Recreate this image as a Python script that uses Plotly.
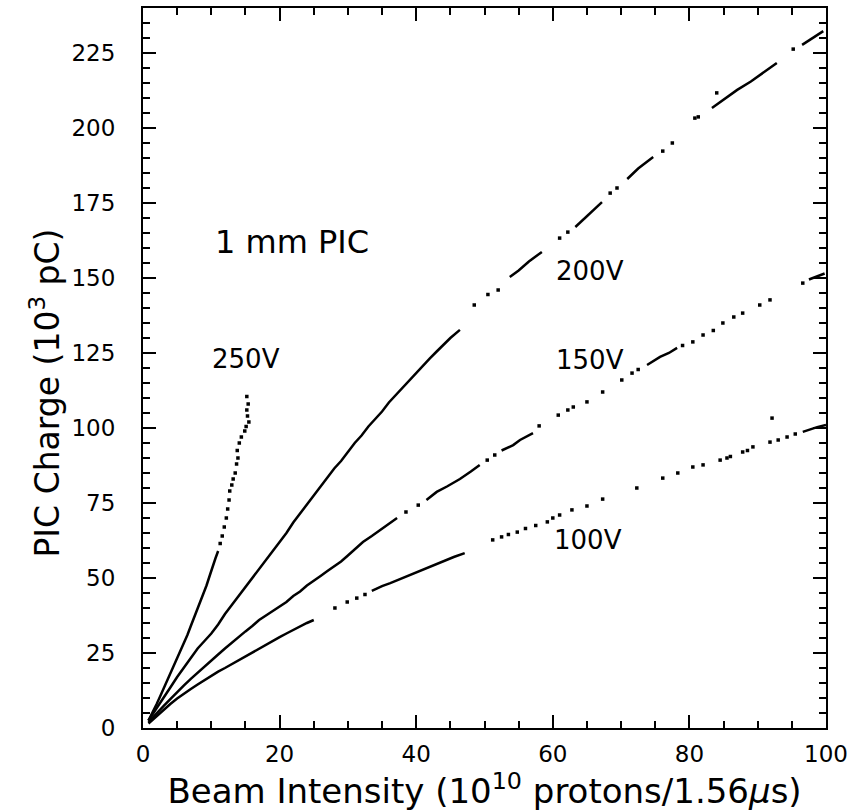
import plotly.graph_objects as go

# ---------------- data ----------------
# 100 V
v100_dense_x = [0.8, 2, 3, 4, 5, 6, 7, 8, 9, 10, 11, 12, 13, 14, 15, 16, 17, 18, 19, 20, 21, 22, 23, 24, 25,
                None, 33.5, 35, 36.2, 38, 39.1, 40.5, 42.5, 44, 45.5, 47.1,
                None, 96.6, 98.7, 100]
v100_dense_y = [1.5, 4, 6, 8, 9.8, 11.5, 13, 14.5, 16, 17.5, 18.8, 20, 21.3, 22.6, 24, 25.3, 26.5, 27.8, 29, 30.3, 31.5, 32.7, 34, 35, 36,
                None, 45.7, 47.3, 48.3, 50, 51, 52.5, 54.3, 55.8, 57, 58.3,
                None, 98.7, 100.3, 101]
v100_sparse_x = [28.1, 29.9, 31.3, 32.5, 51.2, 52.5, 53.5, 54.8, 56, 57.5, 59.2, 60, 61, 62.8, 65, 67.3, 72.3, 76.1,
                 78.3, 80.5, 82, 84.5, 85.5, 86, 87.8, 88.5, 89.3, 91.8, 93, 94.3, 95.5, 92.1]
v100_sparse_y = [40, 42, 43.3, 44.5, 62.7, 63.7, 64.5, 65.3, 66.5, 67.5, 68.7, 70, 71, 72.7, 74, 76.3, 80, 83.3,
                 85, 87, 87.7, 89.3, 90, 90.5, 92, 92.5, 93.7, 95.3, 96, 97, 98, 103.3]

# 150 V
v150_dense_x = [0.8, 2, 3, 4, 5, 6, 7, 8, 9, 10, 11, 12, 13, 14, 15, 16, 17, 18, 19, 20, 21, 22, 23, 24, 25, 26, 27, 28,
                29, 30, 31, 32.2, 33.5, 35, 36, 37.2,
                None, 41.5, 43, 44.5, 46.4, 48, 49.3,
                None, 52.5, 54.2, 55.2, 56, 57.1,
                None, 73.8, 74.5, 75.7, 77, 78.2,
                None, 97.5, 98.4, 99.8]
v150_dense_y = [2, 5, 7.3, 9.6, 12, 14.2, 16.4, 18.5, 20.5, 22.5, 24.5, 26.5, 28.5, 30.3, 32.2, 34, 36, 37.5, 39, 40.5, 42, 44, 45.5, 47.5, 49, 50.7, 52.3, 53.8,
                55.5, 57.5, 59.5, 62, 64, 66.5, 68, 70,
                None, 76, 78.7, 80.5, 83, 85.5, 87.7,
                None, 92.5, 94.3, 96, 97, 98.3,
                None, 121, 122, 123.7, 125, 126.7,
                None, 149.5, 150.3, 151.5]
v150_sparse_x = [38.5, 40.3, 50.4, 51.5, 58, 60.8, 62.2, 63, 65, 67.3, 70.1, 71.6, 72.5, 79, 80.5, 82, 83.5, 84.9,
                 86.5, 87.8, 90.3, 91.8, 96.6]
v150_sparse_y = [72, 74.3, 89.3, 91, 100.7, 104.3, 106, 107, 108.7, 112, 116, 118.3, 119.5, 127.5, 128.7, 131, 132.5, 135,
                 137, 138.3, 141, 142.7, 148.3]

# 200 V
v200_dense_x = [0.8, 2, 3, 4, 5, 6, 7, 8, 9, 10, 11, 12, 13, 14, 15, 16, 17, 18, 19, 20, 21, 22, 23, 24, 25, 26, 27, 28,
                29, 30, 31, 32, 33, 34, 35, 36, 37, 38, 39, 40, 41, 42, 43, 44, 45, 46.4,
                None, 53.7, 55, 56.5, 58.4,
                None, 63.3, 65, 67.2,
                None, 70.9, 72.5, 74.7,
                None, 83.3, 85, 87, 89, 91, 92.8,
                None, 96.5, 98, 99.6]
v200_dense_y = [2.5, 6.5, 10, 13.5, 17, 20.3, 23.5, 26.5, 29, 31.5, 34.5, 38, 41, 44, 47, 50, 53, 56, 59, 62, 65, 68.5, 71.5, 74.5, 77.5, 80.5, 83.5, 86.5,
                89, 92, 95, 97.5, 100.5, 103, 105.5, 108.5, 111, 113.5, 116, 118.5, 121, 123.2, 125.5, 127.8, 130, 132.7,
                None, 150.3, 152.5, 155.5, 158.7,
                None, 167, 170.5, 175.3,
                None, 183, 186.5, 190.3,
                None, 206.7, 209.5, 212.7, 215.5, 218.7, 221.7,
                None, 227.7, 230, 232.3]
v200_sparse_x = [48.5, 50.5, 52, 61, 62.2, 68.4, 69.4, 76.1, 77.5, 80.8, 81.3, 84, 95.2]
v200_sparse_y = [141, 144.5, 146, 163.3, 165.3, 178.3, 180, 192.3, 195, 203.3, 203.7, 211.7, 226.3]

# 250 V
v250_dense_x = [0.8, 1.5, 2, 2.5, 3, 3.5, 4, 4.5, 5, 5.5, 6, 6.5, 7, 7.6, 8.2, 8.8, 9.3, 9.8, 10.2, 10.6, 11]
v250_dense_y = [2.5, 5.5, 8, 10.5, 13, 15.5, 18, 21, 23.5, 26, 28.5, 31, 34, 37.5, 41, 44, 47.5, 51, 54, 56.5, 59]
v250_sparse_x = [11.3, 11.6, 11.9, 12.2, 12.4, 12.6, 12.7, 13, 13.2, 13.5, 13.7, 13.9, 13.8, 14.1, 14.4, 14.9, 15.1,
                 15.5, 15.3, 15.2, 15.4, 15.2]
v250_sparse_y = [61.5, 64, 67, 70, 73, 76, 79, 81, 83, 85, 88, 90, 92.5, 95, 97, 99, 100.5,
                 102, 104, 106, 108, 110.5]

# annotations
label_text = ["1 mm PIC", "250V", "200V", "150V", "100V"]
label_x = [21.8, 15.1, 65.4, 65.4, 65.2]
label_y = [162, 123, 152.5, 122.7, 62.7]
label_size = [32, 26, 26, 26, 26]

x_ticks = [0, 20, 40, 60, 80, 100]
y_ticks = [0, 25, 50, 75, 100, 125, 150, 175, 200, 225]

# ---------------- figure ----------------
FONT = "DejaVu Sans, Verdana, sans-serif"
fig = go.Figure()

series = [
    (v100_dense_x, v100_dense_y, v100_sparse_x, v100_sparse_y),
    (v150_dense_x, v150_dense_y, v150_sparse_x, v150_sparse_y),
    (v200_dense_x, v200_dense_y, v200_sparse_x, v200_sparse_y),
    (v250_dense_x, v250_dense_y, v250_sparse_x, v250_sparse_y),
]
for dx, dy, sx, sy in series:
    fig.add_trace(go.Scatter(x=dx, y=dy, mode="lines", line=dict(color="black", width=2.5),
                             connectgaps=False, showlegend=False, hoverinfo="skip"))
    fig.add_trace(go.Scatter(x=sx, y=sy, mode="markers",
                             marker=dict(color="black", size=3.5, symbol="square"),
                             showlegend=False))

for t, x, y, s in zip(label_text, label_x, label_y, label_size):
    fig.add_annotation(x=x, y=y, text=t, showarrow=False,
                       font=dict(family=FONT, size=s, color="black"))

# y-axis title placed as a rotated annotation (centred slightly below plot middle, as in the reference)
fig.add_annotation(xref="paper", yref="paper", x=-0.143, y=0.465, xanchor="center", yanchor="middle",
                   text="PIC Charge (10<sup>3</sup> pC)", textangle=-90, showarrow=False,
                   font=dict(family=FONT, size=33, color="black"))

axis_common = dict(
    showline=True, linecolor="black", linewidth=2, mirror="ticks",
    ticks="inside", ticklen=13, tickwidth=2, tickcolor="black",
    showgrid=False, zeroline=False,
    tickfont=dict(family=FONT, size=23, color="black"),
)
fig.update_xaxes(range=[0, 100], tickvals=x_ticks, ticktext=[str(v) for v in x_ticks],
                 minor=dict(ticks="inside", ticklen=7, tickwidth=2, tickcolor="black", dtick=5, tick0=0),
                 ticklabelstandoff=4,
                 title=dict(text="Beam Intensity (10<sup>10</sup> protons/1.56<i>μ</i>s)",
                            font=dict(family=FONT, size=34, color="black"), standoff=14),
                 **axis_common)
fig.update_yaxes(range=[0, 240], tickvals=y_ticks, ticktext=[str(v) for v in y_ticks],
                 minor=dict(ticks="inside", ticklen=7, tickwidth=2, tickcolor="black", dtick=5, tick0=0),
                 ticklabelstandoff=21,
                 **axis_common)

fig.update_layout(
    width=849, height=812,
    margin=dict(l=143, r=23, t=8, b=84, autoexpand=False),
    paper_bgcolor="white", plot_bgcolor="white",
)

fig.write_html("out.html")
